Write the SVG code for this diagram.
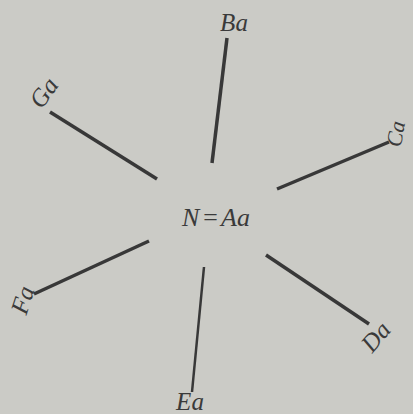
<svg xmlns="http://www.w3.org/2000/svg" width="413" height="414" viewBox="0 0 413 414">
<style>
.bg{fill:#cbcbc6}
.ray{stroke:#383838;stroke-width:3.5;stroke-linecap:butt}
.lbl{font-family:"Liberation Serif","DejaVu Serif",serif;font-style:italic;font-size:25px;fill:#3a3a3a;text-anchor:middle}
</style>
<rect class="bg" x="0" y="0" width="413" height="414"/>
<g id="connectors">
<line class="ray" x1="227" y1="38" x2="212" y2="163"/>
<line class="ray" x1="389" y1="142" x2="277" y2="189"/>
<line class="ray" x1="266" y1="255" x2="369" y2="324"/>
<line class="ray" x1="204" y1="267" x2="192" y2="392" style="stroke-width:2.5"/>
<line class="ray" x1="149" y1="241" x2="34" y2="294"/>
<line class="ray" x1="50" y1="112" x2="157" y2="179"/>
</g>
<g id="node-A"><text class="lbl" x="216" y="226" style="font-size:26px">N<tspan dx="2">=</tspan><tspan dx="2">Aa</tspan></text></g>
<g id="node-B"><text class="lbl" x="234" y="31">Ba</text></g>
<g id="node-C"><text class="lbl" transform="translate(397,134) rotate(-80)" x="0" y="6" style="font-size:22px">Ca</text></g>
<g id="node-D"><text class="lbl" transform="translate(376,337) rotate(-50)" x="0" y="8">Da</text></g>
<g id="node-E"><text class="lbl" x="190" y="410">Ea</text></g>
<g id="node-F"><text class="lbl" transform="translate(23,300) rotate(-72)" x="0" y="8">Fa</text></g>
<g id="node-G"><text class="lbl" transform="translate(44,93) rotate(-55)" x="0" y="8">Ga</text></g>
</svg>
